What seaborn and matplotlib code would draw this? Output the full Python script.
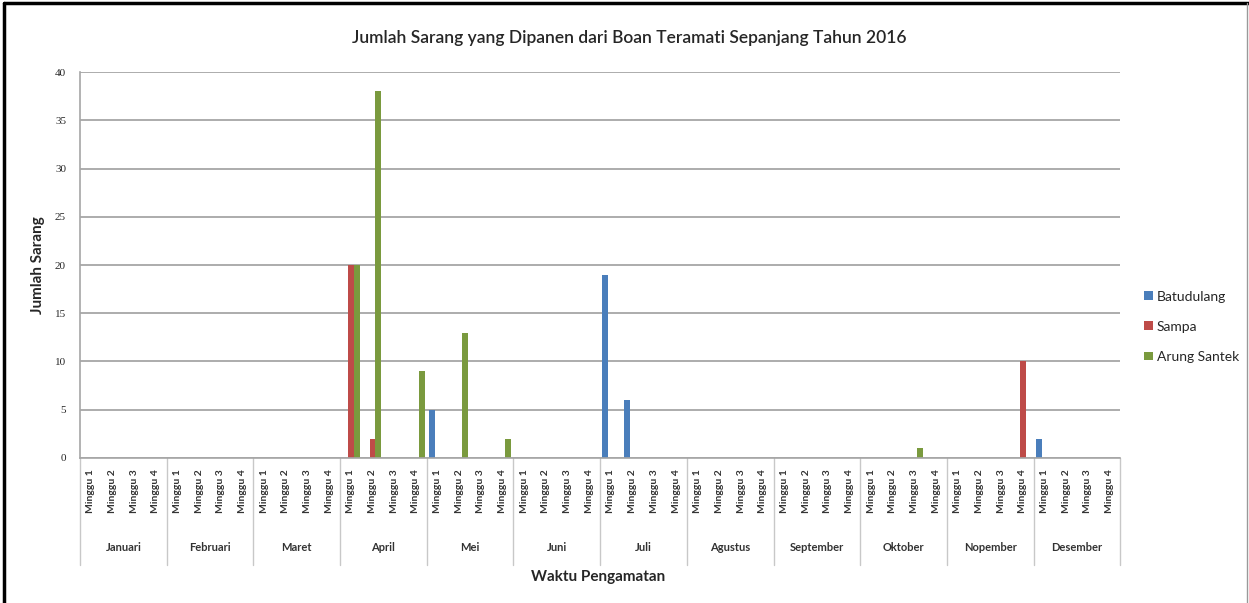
import matplotlib

matplotlib.use("Agg")

import matplotlib.pyplot as plt
import matplotlib.transforms as mtransforms
import numpy as np
import pandas as pd
import seaborn as sns

months = ["Januari", "Februari", "Maret", "April", "Mei", "Juni",
          "Juli", "Agustus", "September", "Oktober", "Nopember", "Desember"]
weeks = ["Minggu 1", "Minggu 2", "Minggu 3", "Minggu 4"]
series = ["Batudulang", "Sampa", "Arung Santek"]

# values per week, 12 months x 4 weeks
batudulang = [0, 0, 0, 0,  0, 0, 0, 0,  0, 0, 0, 0,  0, 0, 0, 0,
              5, 0, 0, 0,  0, 0, 0, 0,  19, 6, 0, 0,  0, 0, 0, 0,
              0, 0, 0, 0,  0, 0, 0, 0,  0, 0, 0, 0,  2, 0, 0, 0]
sampa = [0, 0, 0, 0,  0, 0, 0, 0,  0, 0, 0, 0,  20, 2, 0, 0,
         0, 0, 0, 0,  0, 0, 0, 0,  0, 0, 0, 0,  0, 0, 0, 0,
         0, 0, 0, 0,  0, 0, 0, 0,  0, 0, 0, 10,  0, 0, 0, 0]
arung_santek = [0, 0, 0, 0,  0, 0, 0, 0,  0, 0, 0, 0,  20, 38, 0, 9,
                0, 13, 0, 2,  0, 0, 0, 0,  0, 0, 0, 0,  0, 0, 0, 0,
                0, 0, 0, 0,  0, 0, 1, 0,  0, 0, 0, 0,  0, 0, 0, 0]

colors = ["#4A7EBB", "#BE4B48", "#7A9A3E"]

cats = [f"{m}|{w}" for m in months for w in weeks]
rows = []
for name, vals in zip(series, [batudulang, sampa, arung_santek]):
    for c, v in zip(cats, vals):
        rows.append({"waktu": c, "lokasi": name, "jumlah": v})
df = pd.DataFrame(rows)

sns.set_style("white")
plt.rcParams["font.family"] = ["Lato", "DejaVu Sans"]

fig = plt.figure(figsize=(12.49, 6.03), dpi=100)
ax = fig.add_axes([0.064, 0.2405, 0.833, 0.64])

sns.barplot(data=df, x="waktu", y="jumlah", hue="lokasi", order=cats,
            hue_order=series, palette=colors, width=0.8, ax=ax,
            edgecolor="none", saturation=1)

ax.set_ylim(0, 40)
ax.set_xlim(-0.5, len(cats) - 0.5)
ax.set_yticks(np.arange(0, 41, 5))
ax.yaxis.grid(True, color="#A6A6A6", lw=1.3)
ax.set_axisbelow(True)
for s in ["top", "right"]:
    ax.spines[s].set_visible(False)
for s in ["left", "bottom"]:
    ax.spines[s].set_color("#A6A6A6")
    ax.spines[s].set_linewidth(1.2)
ax.tick_params(axis="y", length=4, color="#A6A6A6", pad=6)
for lab in ax.get_yticklabels():
    lab.set_fontfamily("Liberation Serif")
    lab.set_fontsize(8)
ax.set_xticks(range(len(cats)))
ax.set_xticklabels([c.split("|")[1] for c in cats], rotation=90, fontsize=7.5,
                   va="top", fontweight="bold", color="#333333")
ax.tick_params(axis="x", length=0, pad=8)

trans = mtransforms.blended_transform_factory(ax.transData, ax.transAxes)
for i in range(len(months) + 1):
    x = i * 4 - 0.5
    ax.plot([x, x], [0, -0.277], transform=trans, color="#C8C8C8", lw=1,
            clip_on=False)
for i, m in enumerate(months):
    ax.text(i * 4 + 1.5, -0.233, m, transform=trans, ha="center", va="center",
            fontsize=8, fontweight="bold", color="#333333")

ax.set_xlabel("")
ax.set_ylabel("Jumlah Sarang", fontsize=11, fontweight="bold")
ax.yaxis.set_label_coords(-0.034, 0.5)
fig.text(0.479, 0.043, "Waktu Pengamatan", ha="center", va="center",
         fontsize=11, fontweight="bold")
fig.text(0.504, 0.937, "Jumlah Sarang yang Dipanen dari Boan Teramati Sepanjang Tahun 2016",
         ha="center", va="center", fontsize=12.5, fontweight="semibold")

ax.legend(loc="center left", bbox_to_anchor=(1.015, 0.34), frameon=False,
          fontsize=10, handlelength=0.6, handleheight=0.6, handletextpad=0.3,
          labelspacing=1.3, borderaxespad=0.2)

# outer frame of the picture
fig.add_artist(plt.Line2D([0.003, 0.003], [0, 0.995], color="black", lw=2.5,
                          transform=fig.transFigure))
fig.add_artist(plt.Line2D([0.003, 1], [0.995, 0.995], color="black", lw=2.5,
                          transform=fig.transFigure))
fig.add_artist(plt.Line2D([0.998, 0.998], [0, 0.995], color="#999999", lw=1,
                          transform=fig.transFigure))

fig.savefig("out.png", dpi=100)
